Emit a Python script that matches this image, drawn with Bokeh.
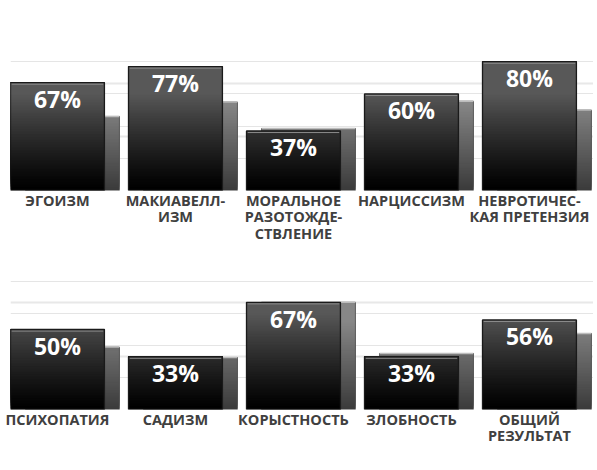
import numpy as np
from bokeh.plotting import figure
from bokeh.models import ColumnDataSource, FixedTicker, Grid, Range1d
from bokeh.layouts import column
from bokeh.core.properties import value
from bokeh.embed import file_html
from bokeh.resources import INLINE

# ---- data ----
top_categories = ["ЭГОИЗМ", "МАКИАВЕЛЛ-\nИЗМ", "МОРАЛЬНОЕ\nРАЗОТОЖДЕ-\nСТВЛЕНИЕ",
                  "НАРЦИССИЗМ", "НЕВРОТИЧЕС-\nКАЯ ПРЕТЕНЗИЯ"]
top_main = [0.67, 0.77, 0.37, 0.60, 0.80]
top_second = [0.46, 0.55, 0.385, 0.555, 0.50]

bottom_categories = ["ПСИХОПАТИЯ", "САДИЗМ", "КОРЫСТНОСТЬ", "ЗЛОБНОСТЬ", "ОБЩИЙ\nРЕЗУЛЬТАТ"]
bottom_main = [0.50, 0.33, 0.67, 0.33, 0.56]
bottom_second = [0.39, 0.325, 0.67, 0.35, 0.475]

grid_ticks = [0, 1 / 3, 2 / 3, 1]

HALF = 0.398      # half width of the main bar (category units)
SHIFT = 0.127     # offset of the background bar
FONT = "Open Sans"


def gray(v):
    v = int(max(0, min(255, round(v))))
    return "#%02x%02x%02x" % (v, v, v)


def main_color(y):
    return gray(88 * min(1.0, y / 0.6) ** 1.2)


def second_color(y):
    return gray(58 + 140 * min(y, 0.55))


def bands(xs, vals, left_off, right_off, colfun, step=0.01):
    # each band runs from its lower edge up to the bar top; later bands
    # cover the upper part of earlier ones, so no seams appear
    L, R, B, T, C = [], [], [], [], []
    for x, v in zip(xs, vals):
        n = max(1, int(np.ceil(v / step)))
        edges = np.linspace(0, v, n + 1)
        for b, t in zip(edges[:-1], edges[1:]):
            L.append(x + left_off)
            R.append(x + right_off)
            B.append(b)
            T.append(v)
            C.append(colfun((b + t) / 2))
    return ColumnDataSource(dict(left=L, right=R, bottom=B, top=T, color=C))


def make_chart(cats, main, second, height, border_top, border_bottom, frame_h):
    xs = list(range(len(cats)))
    p = figure(width=593, height=height, output_backend="svg", toolbar_location=None,
               x_range=Range1d(-HALF, -HALF + 583 / 118), y_range=Range1d(0, 1),
               y_axis_location=None, min_border_left=10, min_border_right=0,
               min_border_top=border_top, min_border_bottom=border_bottom,
               outline_line_color=None, background_fill_color="white",
               border_fill_color="white")
    p.xgrid.visible = False
    p.add_layout(Grid(dimension=1, ticker=FixedTicker(ticks=grid_ticks),
                      grid_line_color="#e8e8e8", grid_line_width=2))

    # background (second) bars
    src2 = bands(xs, second, -HALF + SHIFT, HALF + SHIFT, second_color)
    p.quad(left="left", right="right", bottom="bottom", top="top", source=src2,
           fill_color="color", line_color=None)
    p.quad(left=[x - HALF + SHIFT for x in xs], right=[x + HALF + SHIFT for x in xs],
           bottom=0, top=second, fill_color=None, line_color="#5a5a5a", line_width=0.8)
    p.segment(x0=[x - HALF + SHIFT for x in xs], x1=[x + HALF + SHIFT for x in xs],
              y0=second, y1=second, line_color="#bdbdbd", line_width=1.5)

    # main bars
    src1 = bands(xs, main, -HALF, HALF, main_color)
    p.quad(left="left", right="right", bottom="bottom", top="top", source=src1,
           fill_color="color", line_color=None)
    p.quad(left=[x - HALF for x in xs], right=[x + HALF for x in xs],
           bottom=0, top=main, fill_color=None, line_color="#1a1a1a", line_width=1.3)
    dy = 1.6 / frame_h
    p.segment(x0=[x - HALF + 0.01 for x in xs], x1=[x + HALF - 0.01 for x in xs],
              y0=[v - dy for v in main], y1=[v - dy for v in main],
              line_color="#8a8a8a", line_width=1)

    labels = ["%d%%" % round(v * 100) for v in main]
    p.text(x=xs, y=main, text=labels, text_color="white", text_font=value(FONT),
           text_font_style="bold", text_font_size="23px", text_align="center",
           text_baseline="middle", y_offset=16.5)

    ax = p.xaxis[0]
    ax.ticker = FixedTicker(ticks=xs)
    ax.major_label_overrides = {i: c for i, c in zip(xs, cats)}
    ax.axis_line_color = None
    ax.major_tick_line_color = None
    ax.major_tick_in = 0
    ax.major_tick_out = 0
    ax.minor_tick_line_color = None
    ax.major_label_standoff = 0
    ax.major_label_text_font = FONT
    ax.major_label_text_font_style = "bold"
    ax.major_label_text_font_size = "14.5px"
    ax.major_label_text_color = "#404040"
    ax.major_label_text_line_height = 0.87
    return p


p1 = make_chart(top_categories, top_main, top_second, 249, 29, 59, 161)
p2 = make_chart(bottom_categories, bottom_main, bottom_second, 205, 0, 45, 160)

layout = column(p1, p2, spacing=0)
open("out.html", "w").write(file_html(layout, INLINE))
